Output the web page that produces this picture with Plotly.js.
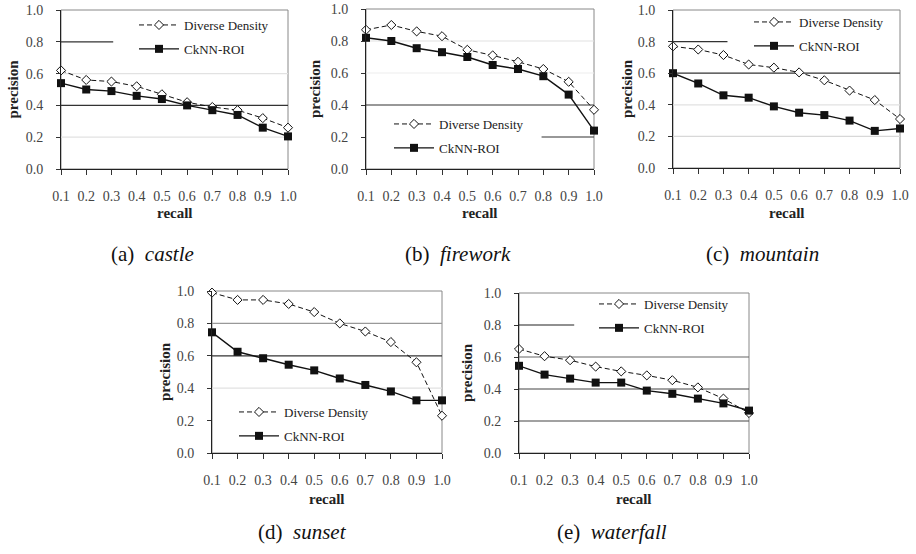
<!DOCTYPE html>
<html><head><meta charset="utf-8">
<script src="https://cdn.plot.ly/plotly-3.0.1.min.js"></script></head>
<body style="margin:0;background:#fff">
<div id="fig" style="width:916px;height:554px"></div>
<script>
// ---- data ----
const recall = [0.1, 0.2, 0.3, 0.4, 0.5, 0.6, 0.7, 0.8, 0.9, 1.0];
const recallLabels = ["0.1","0.2","0.3","0.4","0.5","0.6","0.7","0.8","0.9","1.0"];
const precisionTicks = [0, 0.2, 0.4, 0.6, 0.8, 1.0];
const precisionLabels = ["0.0","0.2","0.4","0.6","0.8","1.0"];
const seriesNames = ["Diverse Density", "CkNN-ROI"];
const panelNames = ["castle", "firework", "mountain", "sunset", "waterfall"];
const panelLetters = ["a", "b", "c", "d", "e"];

const castleDD     = [0.62, 0.56, 0.55, 0.52, 0.47, 0.42, 0.39, 0.37, 0.32, 0.26];
const castleCk     = [0.54, 0.50, 0.49, 0.46, 0.44, 0.40, 0.37, 0.34, 0.26, 0.205];
const fireworkDD   = [0.87, 0.90, 0.86, 0.83, 0.745, 0.71, 0.67, 0.625, 0.545, 0.37];
const fireworkCk   = [0.82, 0.80, 0.755, 0.73, 0.70, 0.65, 0.625, 0.58, 0.465, 0.24];
const mountainDD   = [0.77, 0.75, 0.715, 0.655, 0.635, 0.605, 0.555, 0.49, 0.43, 0.31];
const mountainCk   = [0.60, 0.535, 0.46, 0.445, 0.39, 0.35, 0.335, 0.30, 0.235, 0.25];
const sunsetDD     = [0.99, 0.945, 0.945, 0.92, 0.87, 0.80, 0.75, 0.685, 0.56, 0.23];
const sunsetCk     = [0.745, 0.625, 0.585, 0.545, 0.51, 0.46, 0.42, 0.38, 0.325, 0.325];
const waterfallDD  = [0.65, 0.605, 0.58, 0.54, 0.51, 0.485, 0.455, 0.41, 0.34, 0.25];
const waterfallCk  = [0.545, 0.49, 0.465, 0.44, 0.44, 0.39, 0.37, 0.34, 0.31, 0.265];

const ddSeries = [castleDD, fireworkDD, mountainDD, sunsetDD, waterfallDD];
const ckSeries = [castleCk, fireworkCk, mountainCk, sunsetCk, waterfallCk];

// ---- layout geometry (pixels in the 916x554 page) ----
const W = 916, H = 554;
const boxes = [
  {l: 61,  r: 288, t: 10,  b: 169, legX: 134, legY: 10,  capX: 152, capY: 254, ytX: 12,  xtY: 213},
  {l: 366, r: 594, t: 9,   b: 169, legX: 389, legY: 109, capX: 458, capY: 254, ytX: 315, xtY: 213},
  {l: 673, r: 900, t: 10,  b: 168, legX: 749, legY: 7,   capX: 762, capY: 254, ytX: 627, xtY: 213},
  {l: 212, r: 442, t: 291, b: 453, legX: 234, legY: 397, capX: 302, capY: 532, ytX: 165, xtY: 499},
  {l: 519, r: 749, t: 293, b: 453, legX: 594, legY: 289, capX: 612, capY: 532, ytX: 467, xtY: 499}
];
// scanned gridline appearance per panel: [yValue, x0(domain), x1(domain), color]
const gridArtifacts = [
  [[0.8, 0, 0.23, "#333"], [0.4, 0, 1, "#333"], [0.6, 0, 1, "#e2e2e2"], [0.2, 0, 1, "#e2e2e2"]],
  [[0.4, 0, 1, "#333"], [0.2, 0.77, 1, "#333"], [0.8, 0, 1, "#e2e2e2"], [0.6, 0, 1, "#eeeeee"]],
  [[0.8, 0, 0.24, "#333"], [0.6, 0, 1, "#333"], [0.4, 0, 1, "#e2e2e2"], [0.2, 0, 1, "#d8d8d8"]],
  [[0.8, 0, 1, "#999"], [0.6, 0, 1, "#333"], [0.4, 0, 1, "#e2e2e2"]],
  [[0.8, 0, 0.24, "#222"], [0.6, 0, 1, "#666"], [0.4, 0, 1, "#444"], [0.2, 0, 1, "#444"]]
];

const SERIF = "Times New Roman";
const data = [];
const layout = {
  width: W, height: H,
  margin: {l: 0, r: 0, t: 0, b: 0},
  paper_bgcolor: "#fff", plot_bgcolor: "#fff",
  font: {family: SERIF, color: "#222"},
  showlegend: true,
  shapes: [], annotations: []
};

boxes.forEach((bx, i) => {
  const n = i + 1;
  const xa = n === 1 ? "x" : "x" + n;
  const ya = n === 1 ? "y" : "y" + n;
  const lg = n === 1 ? "legend" : "legend" + n;
  const xk = n === 1 ? "xaxis" : "xaxis" + n;
  const yk = n === 1 ? "yaxis" : "yaxis" + n;

  data.push({
    x: recall, y: ddSeries[i], xaxis: xa, yaxis: ya, legend: lg, legendgroup: "dd" + n,
    name: seriesNames[0], type: "scatter", mode: "lines+markers", cliponaxis: false,
    line: {color: "#111", width: 1, dash: "5px,3px"},
    marker: {symbol: "diamond", size: 7, color: "#fff", line: {color: "#111", width: 1}}
  });
  data.push({
    x: recall, y: ckSeries[i], xaxis: xa, yaxis: ya, legend: lg, legendgroup: "ck" + n,
    name: seriesNames[1], type: "scatter", mode: "lines+markers", cliponaxis: false,
    line: {color: "#111", width: 1.4},
    marker: {symbol: "square", size: 8, color: "#111", line: {color: "#111", width: 0}}
  });

  layout[xk] = {
    domain: [bx.l / W, bx.r / W], anchor: ya,
    range: [recall[0], recall[recall.length - 1]],
    tickmode: "array", tickvals: recall, ticktext: recallLabels,
    ticks: "outside", ticklen: 5, tickcolor: "#333", ticklabelstandoff: 9,
    showgrid: false, zeroline: false,
    showline: true, linecolor: "#222", linewidth: 1,
    tickfont: {family: SERIF, size: 14, color: "#444"}
  };
  layout[yk] = {
    domain: [1 - bx.b / H, 1 - bx.t / H], anchor: xa,
    range: [0, 1],
    tickmode: "array", tickvals: precisionTicks, ticktext: precisionLabels,
    ticks: "outside", ticklen: 4, tickcolor: "#333", ticklabelstandoff: 10,
    showgrid: false, zeroline: false,
    showline: true, linecolor: "#222", linewidth: 1,
    tickfont: {family: SERIF, size: 14, color: "#444"}
  };
  layout[lg] = {
    x: bx.legX / W, y: 1 - bx.legY / H, xanchor: "left", yanchor: "top",
    bgcolor: "rgba(0,0,0,0)", borderwidth: 0,
    font: {family: SERIF, size: 13, color: "#222"},
    itemwidth: 40, tracegroupgap: 4
  };

  // plot-area frame (top/right in grey)
  layout.shapes.push({type: "rect", xref: xa + " domain", yref: ya + " domain",
    x0: 0, x1: 1, y0: 0, y1: 1, line: {color: "#888", width: 1}, layer: "below"});
  gridArtifacts[i].forEach(g => {
    layout.shapes.push({type: "line", xref: xa + " domain", yref: ya,
      x0: g[1], x1: g[2], y0: g[0], y1: g[0], line: {color: g[3], width: 1.2}, layer: "below"});
  });

  layout.annotations.push({text: "<b>precision</b>", xref: "paper", yref: ya + " domain",
    x: bx.ytX / W, y: 0.5, xanchor: "center", yanchor: "middle", textangle: -90, showarrow: false,
    font: {family: SERIF, size: 15, color: "#222"}});
  layout.annotations.push({text: "<b>recall</b>", xref: xa + " domain", yref: "paper",
    x: 0.5, y: 1 - bx.xtY / H, xanchor: "center", yanchor: "middle", showarrow: false,
    font: {family: SERIF, size: 15, color: "#222"}});
  layout.annotations.push({text: "(" + panelLetters[i] + ")  <i>" + panelNames[i] + "</i>",
    xref: "paper", yref: "paper", x: bx.capX / W, y: 1 - bx.capY / H,
    xanchor: "center", yanchor: "middle", showarrow: false,
    font: {family: SERIF, size: 21, color: "#111"}});
});

Plotly.newPlot("fig", data, layout, {staticPlot: true, displayModeBar: false});
</script>
</body></html>
